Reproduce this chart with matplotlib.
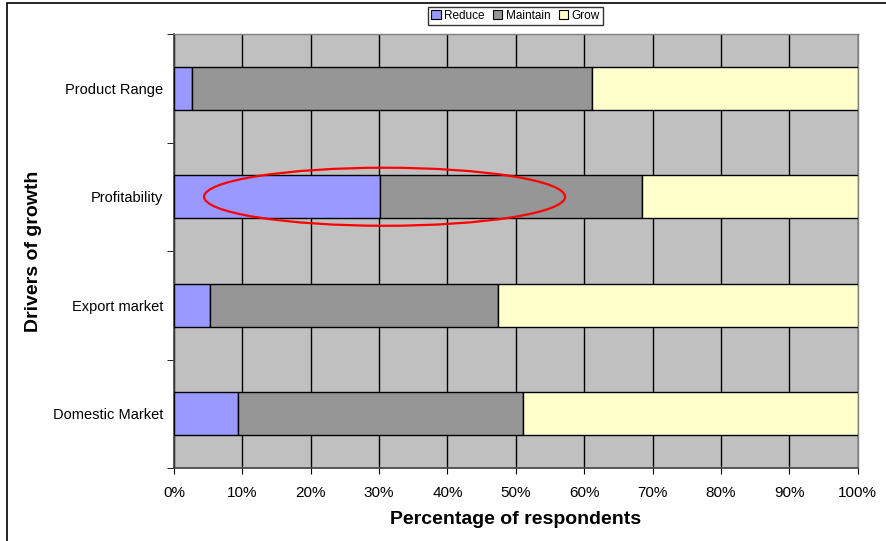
import matplotlib
matplotlib.use("Agg")
import matplotlib.pyplot as plt
from matplotlib.patches import Ellipse, Rectangle
import numpy as np

plt.rcParams['font.family'] = ['Liberation Sans', 'DejaVu Sans']

categories = ["Product Range", "Profitability", "Export market", "Domestic Market"]
reduce_pct = [2.7, 30.2, 5.3, 9.4]
maintain_pct = [58.4, 38.3, 42.1, 41.6]
grow_pct = [38.9, 31.5, 52.6, 49.0]
series_names = ["Reduce", "Maintain", "Grow"]
series_colors = ["#9999FF", "#969696", "#FFFFCC"]
x_ticks = [0, 10, 20, 30, 40, 50, 60, 70, 80, 90, 100]
x_tick_labels = [f"{v}%" for v in x_ticks]

fig = plt.figure(figsize=(8.87, 5.41), dpi=100)
ax = fig.add_axes([174 / 887, 1 - 468 / 541, (857.7 - 174) / 887, (468 - 34) / 541])
ax.set_facecolor("#C0C0C0")

y = np.arange(len(categories))
left = np.zeros(len(categories))
for name, vals, col in zip(series_names, [reduce_pct, maintain_pct, grow_pct], series_colors):
    ax.barh(y, vals, left=left, height=0.4, color=col, edgecolor="black",
            linewidth=1.0, label=name, zorder=3)
    left = left + np.array(vals)

ax.set_xlim(0, 100)
ax.set_ylim(len(categories) - 0.5, -0.5)

ax.set_xticks(x_ticks)
ax.set_xticklabels(x_tick_labels, fontsize=11)
ax.set_yticks(y)
ax.set_yticklabels(categories, fontsize=10.5)
ax.set_yticks(np.arange(len(categories) + 1) - 0.5, minor=True)
ax.tick_params(axis="y", which="major", length=0, pad=8)
ax.tick_params(axis="y", which="minor", length=5, direction="out", color="black")
ax.tick_params(axis="x", length=4, direction="out", pad=9)

ax.xaxis.grid(True, color="black", linewidth=1.0, zorder=1)
ax.set_axisbelow(True)

for side in ["top", "right"]:
    ax.spines[side].set_color("#808080")
    ax.spines[side].set_linewidth(1.0)
for side in ["left", "bottom"]:
    ax.spines[side].set_color("#404040")
    ax.spines[side].set_linewidth(1.2)

ax.set_xlabel("Percentage of respondents", fontsize=14, fontweight="bold", labelpad=8)
ax.set_ylabel("Drivers of growth", fontsize=14, fontweight="bold")
ax.yaxis.set_label_coords(34 / 887, 1 - 251 / 541, transform=fig.transFigure)
ax.yaxis.label.set_verticalalignment("center")

# Highlight around the profitability reduce/maintain split
ell = Ellipse((30.8, 1.0), width=52.8, height=0.535, fill=False,
              edgecolor="#FF0000", linewidth=1.6, zorder=5)
ax.add_patch(ell)

leg = fig.legend(loc="center", bbox_to_anchor=(515.5 / 887, 1 - 16 / 541), ncol=3,
                 fontsize=8.5, frameon=True, fancybox=False, edgecolor="black",
                 handlelength=0.8, handleheight=0.8, handletextpad=0.3,
                 columnspacing=0.7, borderpad=0.25, borderaxespad=0)
leg.get_frame().set_linewidth(1.0)
for h in leg.legend_handles:
    h.set_edgecolor("black")
    h.set_linewidth(0.8)

# Outer chart frame
fig.patches.append(Rectangle((7 / 887, -0.05), 1.05, 1 - 3 / 541 + 0.05,
                             transform=fig.transFigure, fill=False,
                             edgecolor="black", linewidth=1.2))

fig.savefig("out.png", dpi=100)
